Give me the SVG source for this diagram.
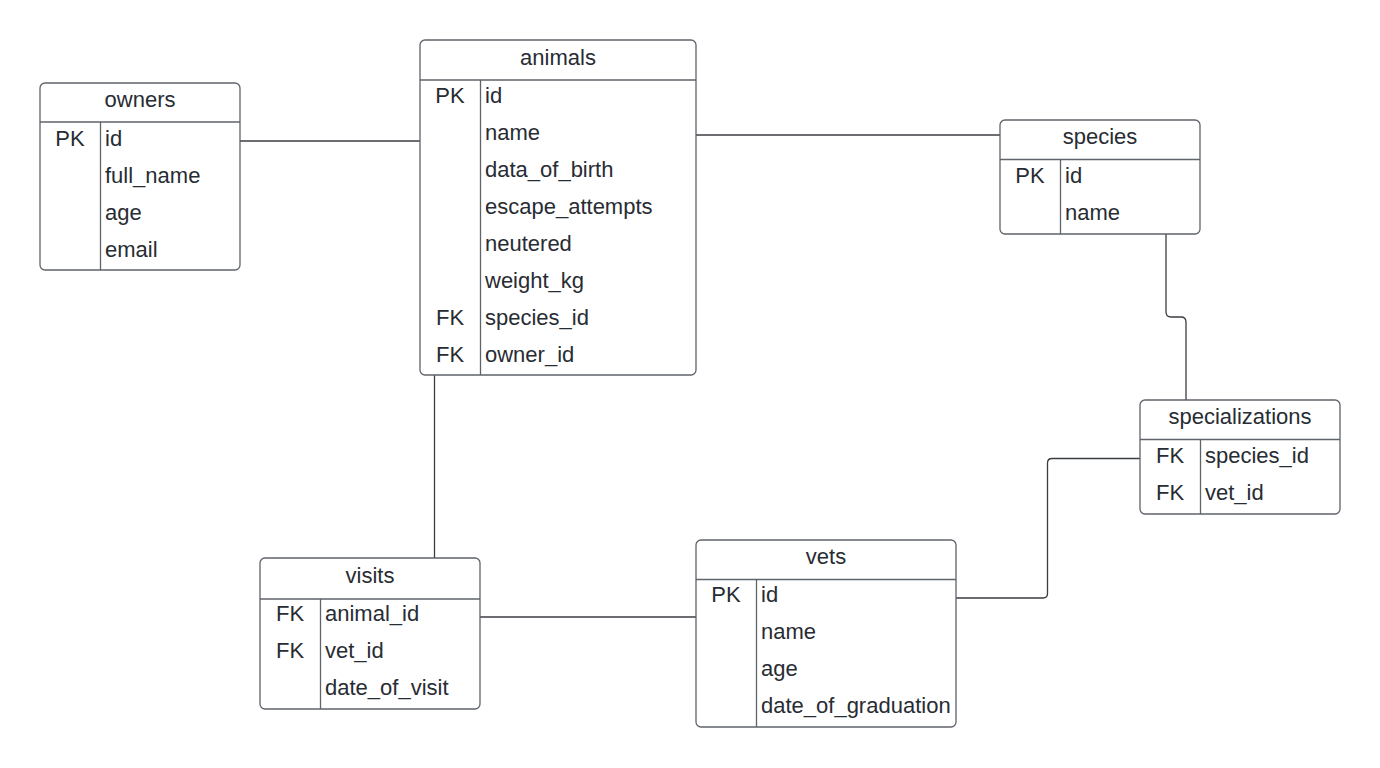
<svg xmlns="http://www.w3.org/2000/svg" width="1380" height="768" viewBox="0 0 1380 768">
<style>
.box{fill:#ffffff;stroke:#5f636a;stroke-width:1.3}
.ln{stroke:#5f636a;stroke-width:1.3;fill:none}
.cn{stroke:#3a3d42;stroke-width:1.3;fill:none}
text{font-family:"Liberation Sans",Arial,sans-serif;font-size:22px;fill:#282c33}
.h{text-anchor:middle}
.k{text-anchor:middle}
</style>
<rect width="1380" height="768" fill="#ffffff"/>
<g id="connectors">
<path class="cn" d="M240 141 H420"/>
<path class="cn" d="M696 135 H1000"/>
<path class="cn" d="M1166 234 V312 Q1166 317 1171 317 H1181 Q1186 317 1186 322 V400"/>
<path class="cn" d="M434.5 375 V558"/>
<path class="cn" d="M480 617 H696"/>
<path class="cn" d="M956 598 H1043 Q1047.5 598 1047.5 593.5 V463 Q1047.5 458.5 1052 458.5 H1140"/>
</g>
<g id="owners">
<rect class="box" x="40" y="83" width="200" height="187" rx="5"/>
<path class="ln" d="M40 122 H240 M100.5 122 V270"/>
<text class="h" x="140" y="107">owners</text>
<text class="k" x="70" y="146">PK</text>
<text x="105" y="146">id</text>
<text x="105" y="183">full_name</text>
<text x="105" y="220">age</text>
<text x="105" y="257">email</text>
</g>
<g id="animals">
<rect class="box" x="420" y="40" width="276" height="335" rx="5"/>
<path class="ln" d="M420 80 H696 M480.5 80 V375"/>
<text class="h" x="558" y="65">animals</text>
<text class="k" x="450" y="103">PK</text>
<text x="485" y="103">id</text>
<text x="485" y="140">name</text>
<text x="485" y="177">data_of_birth</text>
<text x="485" y="214">escape_attempts</text>
<text x="485" y="251">neutered</text>
<text x="485" y="288">weight_kg</text>
<text class="k" x="450" y="325">FK</text>
<text x="485" y="325">species_id</text>
<text class="k" x="450" y="362">FK</text>
<text x="485" y="362">owner_id</text>
</g>
<g id="species">
<rect class="box" x="1000" y="120" width="200" height="114" rx="5"/>
<path class="ln" d="M1000 159.5 H1200 M1060.5 159.5 V234"/>
<text class="h" x="1100" y="144">species</text>
<text class="k" x="1030" y="183">PK</text>
<text x="1065" y="183">id</text>
<text x="1065" y="220">name</text>
</g>
<g id="specializations">
<rect class="box" x="1140" y="400" width="200" height="114" rx="5"/>
<path class="ln" d="M1140 439.5 H1340 M1200.5 439.5 V514"/>
<text class="h" x="1240" y="424">specializations</text>
<text class="k" x="1170" y="463">FK</text>
<text x="1205" y="463">species_id</text>
<text class="k" x="1170" y="500">FK</text>
<text x="1205" y="500">vet_id</text>
</g>
<g id="visits">
<rect class="box" x="260" y="558" width="220" height="151" rx="5"/>
<path class="ln" d="M260 599 H480 M320.5 599 V709"/>
<text class="h" x="370" y="583">visits</text>
<text class="k" x="290" y="621">FK</text>
<text x="325" y="621">animal_id</text>
<text class="k" x="290" y="658">FK</text>
<text x="325" y="658">vet_id</text>
<text x="325" y="695">date_of_visit</text>
</g>
<g id="vets">
<rect class="box" x="696" y="540" width="260" height="187" rx="5"/>
<path class="ln" d="M696 579.5 H956 M756.5 579.5 V727"/>
<text class="h" x="826" y="564">vets</text>
<text class="k" x="726" y="602">PK</text>
<text x="761" y="602">id</text>
<text x="761" y="639">name</text>
<text x="761" y="676">age</text>
<text x="761" y="713">date_of_graduation</text>
</g>
</svg>
